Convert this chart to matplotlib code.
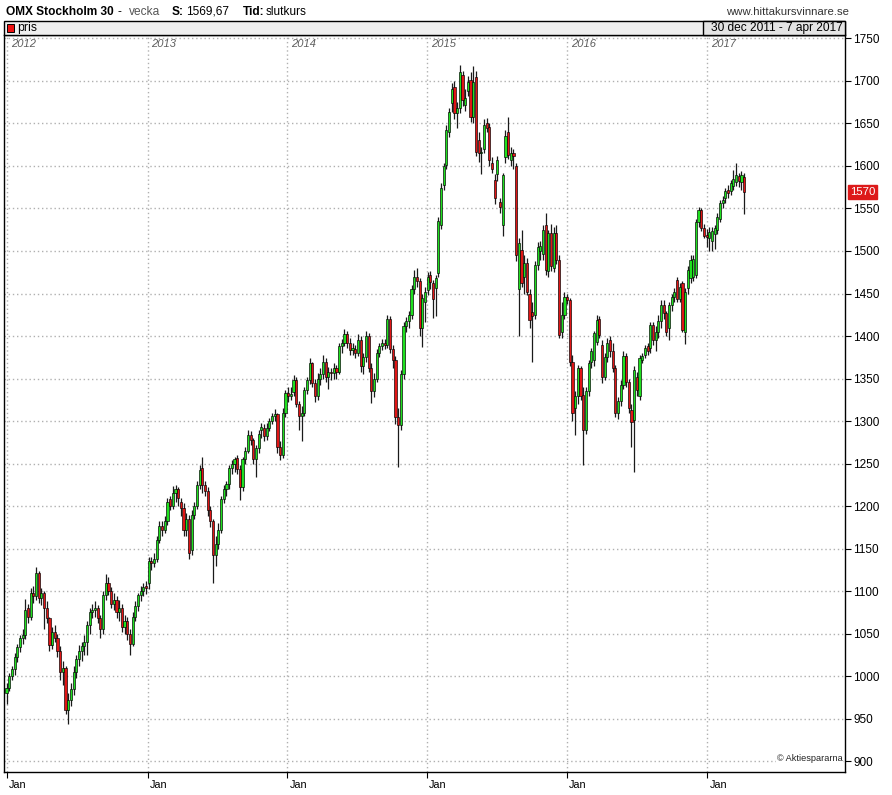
import datetime as dt
import matplotlib
matplotlib.use("Agg")
import matplotlib.pyplot as plt
import matplotlib.dates as mdates
from matplotlib.patches import Rectangle
from matplotlib.transforms import blended_transform_factory, offset_copy

plt.rcParams['font.family'] = ['Liberation Sans', 'DejaVu Sans']

# ---------------- data (weekly OHLC, week ending Friday) ----------------
first_week = dt.date(2011, 12, 30)

open_2012 = [980,986,1000,1008,1022,1034,1045,1048,1080,1070,1098,1094,1121,1092,1098,1080,1068,1036,1052,1045,1030,1005,1010,960,972,985,1005,1020,1030,1035,1040,1060,1075,1078,1080,1068,1055,1095,1110,1100,1085,1090,1075,1080,1058,1065,1050,1038,1070,1082,1095,1100,1105]
high_2012 = [992,1004,1012,1027,1038,1048,1055,1091,1085,1103,1106,1128,1124,1104,1100,1088,1070,1058,1060,1050,1035,1018,1012,980,992,1012,1025,1036,1040,1048,1065,1080,1085,1088,1084,1072,1100,1120,1116,1105,1098,1094,1090,1085,1072,1070,1055,1075,1088,1098,1106,1110,1112]
low_2012 = [967,982,995,1001,1016,1028,1038,1044,1062,1066,1086,1090,1086,1083,1055,1062,1030,1032,1040,1022,995,990,955,943,965,978,998,1012,1018,1025,1025,1050,1068,1070,1062,1045,1050,1090,1095,1080,1078,1068,1065,1052,1050,1042,1025,1035,1065,1076,1088,1094,1096]
close_2012 = [986,1000,1008,1022,1034,1045,1048,1078,1070,1098,1094,1121,1092,1098,1080,1068,1036,1052,1045,1030,1005,1010,960,972,985,1005,1020,1030,1035,1040,1060,1075,1078,1080,1068,1055,1095,1110,1100,1085,1090,1075,1080,1058,1065,1050,1038,1070,1082,1095,1100,1105,1104]

open_2013 = [1110,1135,1133,1138,1160,1176,1172,1182,1208,1200,1215,1220,1205,1198,1172,1185,1148,1190,1200,1225,1245,1225,1218,1195,1182,1142,1155,1172,1208,1220,1226,1245,1250,1256,1244,1222,1255,1265,1284,1278,1255,1268,1290,1292,1282,1292,1300,1306,1308,1270,1260,1310]
high_2013 = [1140,1140,1145,1165,1182,1182,1188,1210,1212,1223,1225,1222,1210,1203,1192,1190,1195,1205,1230,1248,1258,1230,1222,1200,1185,1165,1180,1212,1225,1230,1248,1254,1258,1260,1248,1258,1270,1290,1288,1280,1272,1290,1298,1296,1298,1304,1310,1314,1310,1276,1315,1336]
low_2013 = [1102,1125,1128,1134,1156,1165,1168,1178,1195,1196,1205,1200,1188,1165,1165,1138,1142,1185,1196,1220,1215,1212,1188,1175,1109,1130,1150,1168,1204,1212,1220,1238,1240,1238,1207,1218,1250,1262,1272,1250,1234,1262,1280,1276,1278,1288,1296,1300,1262,1254,1256,1305]
close_2013 = [1135,1133,1138,1160,1176,1172,1182,1205,1200,1215,1220,1210,1198,1172,1185,1145,1190,1200,1225,1242,1225,1218,1195,1182,1142,1155,1172,1208,1220,1226,1245,1250,1255,1244,1222,1255,1265,1284,1278,1255,1268,1285,1293,1282,1292,1300,1306,1308,1270,1260,1310,1333]

open_2014 = [1333,1330,1334,1348,1320,1306,1310,1336,1348,1368,1345,1330,1350,1355,1370,1352,1358,1356,1362,1358,1388,1392,1402,1392,1384,1385,1380,1395,1365,1375,1400,1362,1335,1350,1380,1388,1392,1390,1420,1385,1372,1305,1295,1355,1412,1418,1425,1455,1470,1465,1410,1440]
high_2014 = [1340,1340,1354,1352,1324,1318,1340,1352,1374,1370,1350,1356,1362,1378,1374,1364,1362,1368,1366,1392,1396,1408,1406,1398,1392,1390,1402,1400,1380,1406,1404,1368,1356,1385,1392,1396,1396,1425,1424,1390,1376,1315,1360,1416,1422,1430,1460,1478,1480,1468,1450,1458]
low_2014 = [1322,1325,1330,1316,1290,1276,1306,1332,1344,1340,1322,1325,1342,1350,1346,1338,1348,1350,1350,1355,1380,1388,1386,1378,1378,1374,1376,1358,1355,1370,1358,1321,1328,1346,1375,1384,1385,1386,1380,1362,1296,1246,1290,1350,1405,1410,1420,1450,1458,1400,1387,1417]
close_2014 = [1330,1332,1348,1320,1306,1310,1336,1348,1368,1345,1330,1350,1355,1370,1352,1358,1356,1362,1358,1388,1392,1402,1392,1384,1385,1380,1395,1365,1375,1400,1362,1335,1350,1380,1388,1392,1390,1420,1385,1372,1305,1295,1355,1412,1418,1425,1455,1470,1465,1410,1445,1452]

open_2015 = [1454,1472,1462,1456,1474,1531,1578,1601,1640,1674,1693,1662,1668,1707,1672,1688,1701,1658,1705,1630,1615,1620,1650,1646,1603,1583,1591,1558,1531,1611,1640,1607,1615,1600,1455,1501,1470,1486,1450,1428,1425,1484,1500,1497,1531,1476,1521,1480,1521,1490,1405,1425]
high_2015 = [1475,1476,1466,1472,1540,1580,1604,1648,1668,1698,1700,1675,1719,1712,1690,1706,1710,1718,1712,1640,1622,1655,1656,1650,1610,1590,1612,1562,1592,1642,1658,1622,1620,1604,1515,1525,1495,1492,1455,1440,1488,1510,1512,1530,1545,1525,1532,1528,1530,1495,1440,1452]
low_2015 = [1448,1455,1421,1424,1470,1526,1572,1596,1634,1664,1655,1645,1662,1670,1665,1682,1652,1650,1612,1605,1590,1615,1640,1600,1592,1555,1582,1545,1518,1604,1608,1600,1596,1488,1400,1458,1450,1448,1410,1370,1420,1478,1490,1490,1472,1470,1476,1475,1485,1398,1398,1420]
close_2015 = [1470,1464,1444,1468,1535,1574,1600,1642,1664,1691,1662,1668,1711,1678,1680,1699,1658,1699,1617,1615,1617,1648,1645,1607,1597,1562,1607,1552,1589,1635,1613,1615,1612,1495,1509,1462,1486,1452,1419,1423,1484,1505,1506,1525,1478,1521,1482,1521,1490,1401,1425,1446]

open_2016 = [1446,1442,1370,1315,1330,1362,1331,1290,1335,1370,1372,1393,1420,1389,1352,1375,1395,1382,1362,1309,1323,1342,1376,1346,1313,1301,1352,1329,1372,1378,1388,1386,1413,1395,1405,1418,1437,1427,1410,1437,1446,1466,1444,1462,1405,1456,1468,1470,1472,1534,1548,1527,1518]
high_2016 = [1450,1445,1378,1335,1366,1365,1340,1340,1372,1386,1406,1425,1424,1395,1380,1398,1400,1392,1366,1328,1348,1382,1380,1350,1320,1365,1358,1378,1380,1390,1392,1416,1416,1412,1425,1442,1442,1430,1440,1450,1456,1470,1462,1465,1456,1482,1495,1495,1538,1552,1550,1532,1526]
low_2016 = [1438,1365,1300,1284,1320,1325,1248,1285,1330,1362,1365,1390,1398,1345,1348,1370,1375,1358,1305,1302,1318,1338,1340,1310,1270,1240,1330,1325,1368,1374,1378,1380,1390,1382,1398,1410,1420,1400,1395,1430,1440,1440,1440,1405,1391,1450,1462,1465,1468,1528,1524,1515,1505]
close_2016 = [1442,1370,1310,1330,1362,1330,1290,1335,1368,1382,1403,1419,1401,1352,1375,1392,1382,1362,1309,1323,1342,1376,1346,1315,1299,1360,1337,1374,1377,1386,1382,1413,1395,1405,1418,1437,1427,1405,1437,1446,1452,1444,1458,1407,1452,1478,1489,1491,1534,1548,1527,1518,1517]

open_2017 = [1515,1512,1520,1525,1538,1556,1562,1572,1571,1577,1581,1588,1581,1587]
high_2017 = [1528,1528,1530,1545,1560,1565,1574,1578,1584,1595,1603,1592,1594,1592]
low_2017 = [1500,1500,1502,1520,1534,1550,1556,1562,1566,1572,1576,1575,1572,1544]
close_2017 = [1522,1524,1527,1540,1556,1560,1570,1568,1580,1585,1589,1582,1589,1569.67]

y_ticks = [900, 950, 1000, 1050, 1100, 1150, 1200, 1250, 1300, 1350, 1400,
           1450, 1500, 1550, 1600, 1650, 1700, 1750]
year_labels = ['2012', '2013', '2014', '2015', '2016', '2017']
last_label = '1570'

opens = open_2012 + open_2013 + open_2014 + open_2015 + open_2016 + open_2017
highs = high_2012 + high_2013 + high_2014 + high_2015 + high_2016 + high_2017
lows = low_2012 + low_2013 + low_2014 + low_2015 + low_2016 + low_2017
closes = close_2012 + close_2013 + close_2014 + close_2015 + close_2016 + close_2017
n = len(closes)
dates = [first_week + dt.timedelta(weeks=i) for i in range(n)]
xs = mdates.date2num(dates)

# ---------------- figure ----------------
W, H = 892, 795
fig = plt.figure(figsize=(W / 100, H / 100), dpi=100)
fig.patch.set_facecolor('white')


def fx(x):
    return x / W


def fy(y):
    return 1 - y / H


L, R, T, B = 4, 845, 35, 772
ax = fig.add_axes([fx(L), fy(B), fx(R) - fx(L), fy(T) - fy(B)])
ax.set_facecolor('white')

UP = '#1fe01f'
DOWN = '#e01515'

ax.vlines(xs, lows, highs, colors='#1a1a1a', linewidth=0.9, zorder=3)
bottoms = [min(o, c) for o, c in zip(opens, closes)]
heights = [max(abs(c - o), 1.5) for o, c in zip(opens, closes)]
colors = [UP if c >= o else DOWN for o, c in zip(opens, closes)]
ax.bar(xs, heights, bottom=bottoms, width=5.6, color=colors,
       edgecolor='black', linewidth=0.45, zorder=4)

x0 = mdates.date2num(first_week)
ax.set_xlim(x0 - 0.943 * 7, x0 + 312.6 * 7)
ax.set_ylim(887.1, 1754.1)

# grid
grid_kw = dict(color='#b0b0b0', linestyle=(0, (1, 2)), linewidth=1.0, zorder=1)
for v in y_ticks:
    ax.axhline(v, **grid_kw)
jan_dates = [mdates.date2num(dt.date(int(y), 1, 1)) for y in year_labels]
for d in jan_dates:
    ax.axvline(d, **grid_kw)

# y axis on right
ax.yaxis.tick_right()
ax.set_yticks(y_ticks)
ax.set_yticklabels([str(v) for v in y_ticks])
ax.tick_params(axis='y', direction='out', length=4, width=0.8, pad=2,
               labelsize=8.5, colors='black')
ax.set_xticks(jan_dates)
ax.set_xticklabels([''] * len(jan_dates))
ax.tick_params(axis='x', direction='out', length=4, width=0.8)
for s in ax.spines.values():
    s.set_linewidth(1.0)
    s.set_color('black')

tb = blended_transform_factory(ax.transData, ax.transAxes)
for d, lab in zip(jan_dates, year_labels):
    ax.text(d, 1, lab, transform=offset_copy(tb, fig=fig, x=3.5, y=-9, units='dots'),
            ha='left', va='center', fontsize=8, style='italic', color='#5e5e5e')
    ax.text(d, 0, 'Jan', transform=offset_copy(tb, fig=fig, x=2, y=-13, units='dots'),
            ha='left', va='center', fontsize=7.8, color='black', clip_on=False)

# last price box
tr = blended_transform_factory(ax.transAxes, ax.transData)
ax.text(1.0, closes[-1], last_label, transform=offset_copy(tr, fig=fig, x=5, y=0, units='dots'),
        ha='left', va='center', fontsize=8.2, color='white', clip_on=False,
        bbox=dict(boxstyle='square,pad=0.18', facecolor='#dd1a1a', edgecolor='#dd1a1a'))

# copyright
ax.text(0.997, 0.012, '\u00a9 Aktiespararna', transform=ax.transAxes, ha='right', va='bottom',
        fontsize=6.6, color='#222222',
        bbox=dict(boxstyle='square,pad=0.1', facecolor='white', edgecolor='none'))

# legend bar on top
bar = Rectangle((fx(L), fy(T)), fx(R) - fx(L), fy(21) - fy(T), transform=fig.transFigure,
                facecolor='#efefef', edgecolor='black', linewidth=1.0, zorder=5)
fig.patches.append(bar)
dbox = Rectangle((fx(703), fy(T)), fx(R) - fx(703), fy(21) - fy(T), transform=fig.transFigure,
                 facecolor='#e4e4e4', edgecolor='black', linewidth=1.0, zorder=6)
fig.patches.append(dbox)
sq = Rectangle((fx(7), fy(31.5)), fx(7), fy(24) - fy(31.5), transform=fig.transFigure,
               facecolor='#ee1111', edgecolor='black', linewidth=0.7, zorder=7)
fig.patches.append(sq)
fig.text(fx(17), fy(28), 'pris', ha='left', va='center', fontsize=8.8, color='black', zorder=8)
fig.text(fx(843), fy(28), '30 dec 2011 - 7 apr 2017', ha='right', va='center',
         fontsize=8.6, color='black', zorder=8)

# header
hy = fy(12)
fig.text(fx(6), hy, 'OMX Stockholm 30', ha='left', va='center', fontsize=8.6,
         fontweight='bold', color='black')
fig.text(fx(118), hy, '-', ha='left', va='center', fontsize=8.6, color='black')
fig.text(fx(129), hy, 'vecka', ha='left', va='center', fontsize=8.6, color='#555555')
fig.text(fx(172), hy, 'S:', ha='left', va='center', fontsize=8.6, fontweight='bold', color='black')
fig.text(fx(186), hy, '1569,67', ha='left', va='center', fontsize=8.6, color='black')
fig.text(fx(243), hy, 'Tid:', ha='left', va='center', fontsize=8.6, fontweight='bold', color='black')
fig.text(fx(266), hy, 'slutkurs', ha='left', va='center', fontsize=8.6, color='black')
fig.text(fx(849), hy, 'www.hittakursvinnare.se', ha='right', va='center', fontsize=8.2,
         color='#333333')

fig.savefig('out.png', dpi=100, facecolor='white')
